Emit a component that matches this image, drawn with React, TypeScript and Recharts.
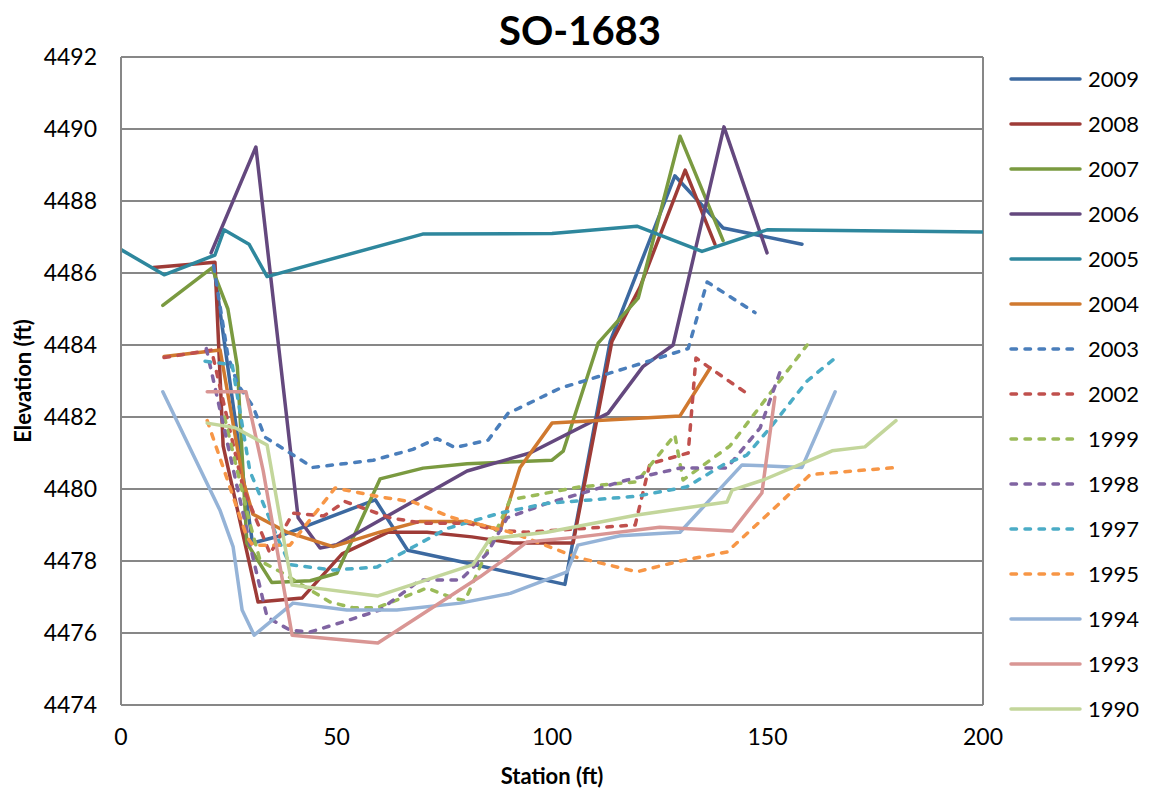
import React from 'react';
import { LineChart, Line, XAxis, YAxis, CartesianGrid, ReferenceLine } from 'recharts';

const xTicks = [0, 50, 100, 150, 200];
const yTicks = [4474, 4476, 4478, 4480, 4482, 4484, 4486, 4488, 4490, 4492];

const x2009 = [21.5, 30.5, 37, 59, 66.5, 80, 103, 113.5, 128.5, 139.7, 158];
const y2009 = [4486.2, 4478.5, 4478.7, 4479.7, 4478.3, 4477.95, 4477.35, 4484.1, 4488.7, 4487.25, 4486.8];

const x2008 = [7.5, 21.8, 23.7, 31.8, 42, 51.3, 62, 71, 81.4, 91, 104.9, 113.9, 120.4, 130.9, 137.8];
const y2008 = [4486.15, 4486.3, 4481.2, 4476.86, 4476.97, 4478.2, 4478.8, 4478.8, 4478.67, 4478.5, 4478.5, 4484.1, 4485.6, 4488.86, 4486.8];

const x2007 = [9.7, 21.1, 24.8, 27, 29.2, 35, 43.9, 50.1, 60.1, 70.1, 80.3, 100, 102.6, 110.7, 120, 129.7, 139.7];
const y2007 = [4485.1, 4486.14, 4485.0, 4483.4, 4478.5, 4477.4, 4477.45, 4477.66, 4480.28, 4480.58, 4480.7, 4480.8, 4481.05, 4484.05, 4485.3, 4489.8, 4486.9];

const x2006 = [20.9, 31.3, 41.1, 46.2, 50, 80.3, 94.9, 113, 121.1, 128.1, 139.9, 149.9];
const y2006 = [4486.56, 4489.5, 4479.2, 4478.36, 4478.45, 4480.5, 4481.0, 4482.1, 4483.4, 4484.0, 4490.06, 4486.56];

const x2005 = [0, 10, 21.8, 23.9, 29.7, 33.9, 70, 100, 119.7, 134.8, 149.9, 200];
const y2005 = [4486.65, 4485.95, 4486.5, 4487.2, 4486.8, 4485.9, 4487.08, 4487.1, 4487.3, 4486.6, 4487.2, 4487.14];

const x2004 = [10, 23, 28.3, 30.6, 38.5, 49.2, 60, 69.4, 80.3, 88, 92.6, 100, 129.7, 136.7];
const y2004 = [4483.68, 4483.86, 4480.25, 4479.3, 4478.8, 4478.4, 4478.8, 4479.1, 4479.1, 4478.86, 4480.6, 4481.83, 4482.03, 4483.36];

const x2003 = [21.5, 24.8, 27.1, 30.6, 33.4, 44.5, 58.5, 67.7, 73.3, 77.5, 85.2, 89.8, 101.9, 121.1, 131.6, 136, 147.1];
const y2003 = [4486.2, 4483.7, 4482.9, 4482.3, 4481.44, 4480.6, 4480.8, 4481.1, 4481.4, 4481.15, 4481.36, 4482.1, 4482.8, 4483.5, 4483.9, 4485.75, 4484.9];

const x2002 = [10, 21, 28.3, 34.6, 39.9, 47, 52, 62.4, 70, 80.3, 87.2, 94.2, 119.3, 122.7, 131.6, 133.4, 136.2, 145.9];
const y2002 = [4483.65, 4483.86, 4480.05, 4478.2, 4479.33, 4479.25, 4479.65, 4479.2, 4479.05, 4479.05, 4478.86, 4478.8, 4479.0, 4480.7, 4481.0, 4483.64, 4483.4, 4482.6];

const x1999 = [24, 29.9, 32.3, 37, 48.5, 53.8, 59.4, 71, 77, 79.8, 90.3, 106.5, 119.7, 128.5, 130.4, 141.3, 159.2];
const y1999 = [4482.0, 4479.05, 4478.0, 4477.7, 4476.86, 4476.7, 4476.7, 4477.25, 4476.97, 4476.9, 4479.7, 4480.06, 4480.2, 4481.5, 4480.25, 4481.2, 4484.0];

const x1998 = [19.8, 30.6, 33.9, 39.2, 43.9, 50.8, 60.1, 69.4, 78.7, 84.9, 89.6, 98.8, 117.4, 129.7, 140.6, 148.3, 152.9];
const y1998 = [4483.9, 4478.1, 4476.44, 4476.08, 4476.03, 4476.28, 4476.64, 4477.47, 4477.47, 4478.2, 4479.2, 4479.6, 4480.25, 4480.58, 4480.58, 4481.7, 4483.25];

const x1997 = [19.5, 25.8, 29.9, 36.2, 39.2, 49.2, 59.4, 66.4, 75.6, 87.9, 98.8, 119.7, 131.3, 139.7, 145.2, 151.3, 159.2, 165.7];
const y1997 = [4483.55, 4483.45, 4480.5, 4478.67, 4477.9, 4477.75, 4477.83, 4478.3, 4478.9, 4479.33, 4479.6, 4479.8, 4480.06, 4480.67, 4480.94, 4481.8, 4483.0, 4483.64];

const x1995 = [20, 29.2, 30.6, 39.2, 49.7, 60.1, 67.7, 77, 91, 105.8, 119.7, 129.7, 140.6, 149.9, 159.9, 180];
const y1995 = [4481.9, 4478.67, 4478.44, 4478.44, 4480.03, 4479.78, 4479.64, 4479.2, 4478.78, 4478.1, 4477.7, 4478.0, 4478.25, 4479.28, 4480.4, 4480.6];

const x1994 = [9.7, 23, 26, 28.1, 30.9, 39.9, 52.4, 64, 78.7, 90.3, 103.5, 106, 115.8, 129.7, 144.1, 158, 165.7];
const y1994 = [4482.7, 4479.4, 4478.4, 4476.64, 4475.94, 4476.83, 4476.64, 4476.64, 4476.83, 4477.1, 4477.7, 4478.44, 4478.7, 4478.8, 4480.67, 4480.6, 4482.7];

const x1993 = [20, 29, 33, 39.7, 59.6, 83.3, 89.6, 94.2, 106.5, 125, 141.8, 148.7, 151.7];
const y1993 = [4482.7, 4482.7, 4480.5, 4475.94, 4475.72, 4477.56, 4478.1, 4478.53, 4478.67, 4478.94, 4478.83, 4479.89, 4482.55];

const x1990 = [20, 26.5, 33.9, 38.5, 39.7, 59.6, 81.7, 85.6, 98.8, 119.7, 140.6, 141.8, 149, 165, 172.6, 179.8];
const y1990 = [4481.83, 4481.7, 4481.22, 4478.1, 4477.33, 4477.03, 4477.9, 4478.62, 4478.8, 4479.28, 4479.64, 4479.97, 4480.25, 4481.06, 4481.17, 4481.9];

const names = ['2009', '2008', '2007', '2006', '2005', '2004', '2003', '2002', '1999', '1998', '1997', '1995', '1994', '1993', '1990'];
const colors = ['#3C69A0', '#9E3B37', '#7A9A40', '#64487E', '#2E879D', '#D0792F', '#4A7EBB', '#C0504D', '#9BBB59', '#8064A2', '#4BACC6', '#F79646', '#95B3D7', '#D99694', '#C3D69B'];
const dashed = [false, false, false, false, false, false, true, true, true, true, true, true, false, false, false];
const xs = [x2009, x2008, x2007, x2006, x2005, x2004, x2003, x2002, x1999, x1998, x1997, x1995, x1994, x1993, x1990];
const ys = [y2009, y2008, y2007, y2006, y2005, y2004, y2003, y2002, y1999, y1998, y1997, y1995, y1994, y1993, y1990];

const series = names.map((name, i) => ({
  name,
  color: colors[i],
  dashed: dashed[i],
  data: xs[i].map((x, j) => ({ x, y: ys[i][j] })),
}));

const FONT = 'Lato, "Noto Sans", sans-serif';
const DASH = '5.5 8.5';

const YLabel = (props: any) => {
  const vb = props.viewBox || { x: 0, y: 0, height: 0 };
  const cy = vb.y + vb.height / 2;
  return (
    <text x={22} y={cy} transform={`rotate(-90 22 ${cy})`} textAnchor="middle" dominantBaseline="central"
      fontFamily={FONT} fontWeight={700} fontSize={22} fill="#000">
      Elevation (ft)
    </text>
  );
};

const XLabel = (props: any) => {
  const vb = props.viewBox || { x: 0, y: 0, width: 0 };
  const cx = vb.x + vb.width / 2;
  return (
    <text x={cx} y={784} textAnchor="middle" fontFamily={FONT} fontWeight={700} fontSize={22} fill="#000">
      Station (ft)
    </text>
  );
};

export default function App() {
  return (
    <div style={{ position: 'absolute', left: 0, top: 0, width: 1152, height: 795, background: '#fff', fontFamily: FONT }}>
      <div style={{ position: 'absolute', left: 0, top: 6, width: 1160, textAlign: 'center', fontSize: 40, fontWeight: 700, color: '#000', lineHeight: '48px' }}>
        SO-1683
      </div>
      <LineChart width={1152} height={795} margin={{ top: 57, right: 169, bottom: 50, left: 41 }}>
        <CartesianGrid vertical={false} stroke="#878787" strokeWidth={2} horizontalValues={yTicks} />
        <XAxis type="number" dataKey="x" domain={[0, 200]} ticks={xTicks} height={40}
          axisLine={{ stroke: '#878787', strokeWidth: 2 }} tickLine={false} tickMargin={18}
          tick={{ fontFamily: FONT, fontSize: 23, fill: '#000' }} label={<XLabel />} allowDataOverflow />
        <YAxis type="number" domain={[4474, 4492]} ticks={yTicks} width={80}
          axisLine={{ stroke: '#878787', strokeWidth: 2 }} tickLine={false} tickMargin={18}
          tick={{ fontFamily: FONT, fontSize: 23, fill: '#000' }} label={<YLabel />} allowDataOverflow />
        <ReferenceLine x={200} stroke="#878787" strokeWidth={2} />
        {series.map((s) => (
          <Line key={s.name} data={s.data} dataKey="y" name={s.name} type="linear" stroke={s.color}
            strokeWidth={3.5} strokeDasharray={s.dashed ? DASH : undefined} strokeLinecap="round"
            strokeLinejoin="round" dot={false} activeDot={false} isAnimationActive={false} />
        ))}
      </LineChart>
      <div style={{ position: 'absolute', left: 1005, top: 56, width: 147 }}>
        {series.map((s) => (
          <div key={s.name} style={{ display: 'flex', alignItems: 'center', height: 45 }}>
            <svg width={82} height={10} style={{ display: 'block' }}>
              <line x1={6} y1={5} x2={75} y2={5} stroke={s.color} strokeWidth={3.5}
                strokeDasharray={s.dashed ? DASH : undefined} strokeLinecap="round" />
            </svg>
            <span style={{ fontSize: 22, color: '#000', marginLeft: 1 }}>{s.name}</span>
          </div>
        ))}
      </div>
    </div>
  );
}
